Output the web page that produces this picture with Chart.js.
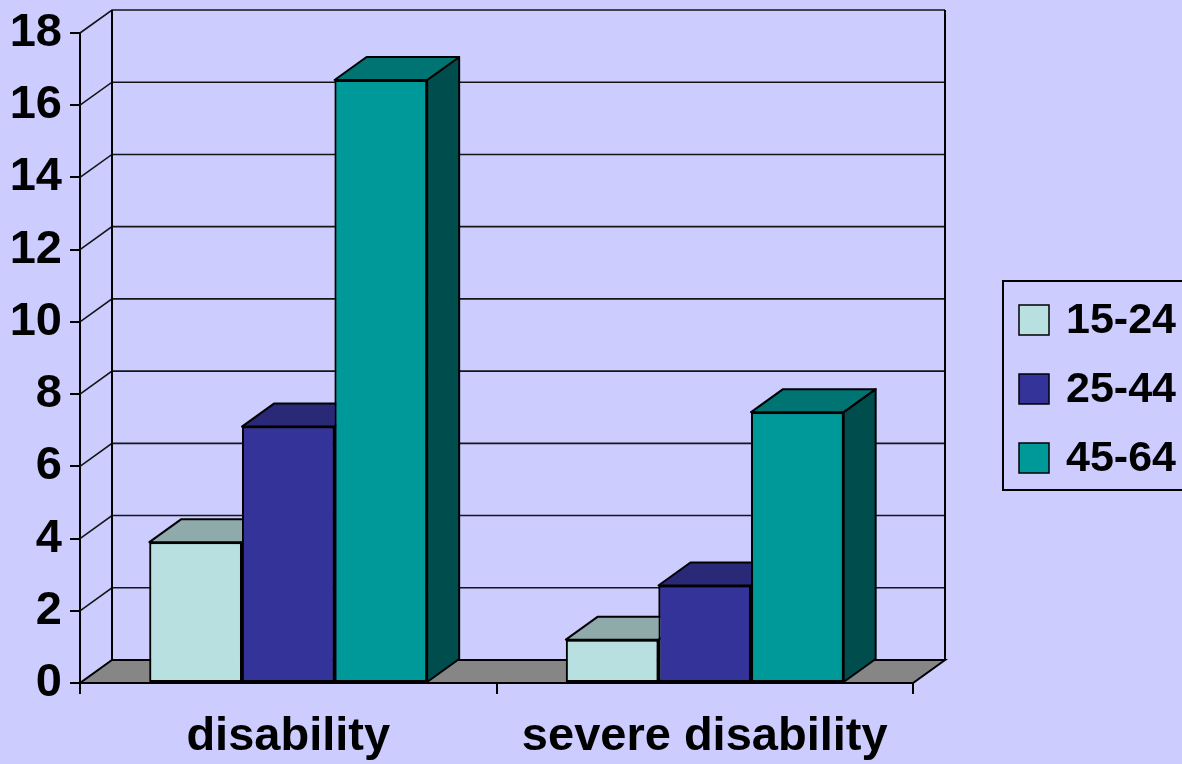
<!DOCTYPE html>
<html>
<head>
<meta charset="utf-8">
<script src="https://cdn.jsdelivr.net/npm/chart.js@4/dist/chart.umd.min.js"></script>
<style>
  html, body { margin: 0; padding: 0; background: #CCCCFF; }
  #wrap { width: 1182px; height: 764px; }
</style>
</head>
<body>
<div id="wrap"><canvas id="c" width="1182" height="764"></canvas></div>
<script>
// ---- data ----
const categories = ['disability', 'severe disability'];
const seriesLabels = ['15-24', '25-44', '45-64'];
const age15to24 = [3.9, 1.2];
const age25to44 = [7.1, 2.7];
const age45to64 = [16.7, 7.5];
const yMin = 0, yMax = 18, yStep = 2;

// ---- style ----
const frontColors = ['#B9E0E0', '#333399', '#009999'];
const topColors   = ['#8FAAAA', '#292977', '#007373'];
const sideColors  = ['#7A9696', '#1F1F5C', '#004D4D'];
const FLOOR = '#868686';
const DX = 32, DY = -23;
const FONT = 'Liberation Sans, Arial, sans-serif';

const depthPlugin = {
  id: 'depth3d',
  beforeDatasetsDraw(chart) {
    const { ctx, chartArea: a, scales: { y } } = chart;
    const L = a.left, R = a.right;
    const B = y.getPixelForValue(yMin), T = y.getPixelForValue(yMax);
    ctx.save();
    // floor
    ctx.beginPath();
    ctx.moveTo(L, B); ctx.lineTo(R, B); ctx.lineTo(R + DX, B + DY); ctx.lineTo(L + DX, B + DY);
    ctx.closePath();
    ctx.fillStyle = FLOOR; ctx.fill();
    ctx.lineWidth = 2; ctx.strokeStyle = '#000'; ctx.stroke();
    // side wall + back wall gridlines
    ctx.lineWidth = 1.6; ctx.strokeStyle = '#151515';
    y.ticks.forEach(t => {
      if (t.value === yMin) return;
      const py = y.getPixelForValue(t.value);
      ctx.beginPath();
      ctx.moveTo(L, py); ctx.lineTo(L + DX, py + DY); ctx.lineTo(R + DX, py + DY);
      ctx.stroke();
    });
    ctx.lineWidth = 2; ctx.strokeStyle = '#000';
    ctx.beginPath();
    ctx.moveTo(L + DX, T + DY); ctx.lineTo(L + DX, B + DY);
    ctx.moveTo(R + DX, T + DY); ctx.lineTo(R + DX, B + DY);
    ctx.stroke();
    ctx.restore();
  },
  afterDatasetsDraw(chart) {
    const { ctx } = chart;
    // gather bars, paint back-to-front (left to right): side, top, then front face
    const bars = [];
    chart.data.datasets.forEach((ds, i) => {
      chart.getDatasetMeta(i).data.forEach(el => bars.push({ el, i }));
    });
    bars.sort((a, b) => a.el.x - b.el.x);
    ctx.save();
    ctx.lineWidth = 2; ctx.strokeStyle = '#000'; ctx.lineJoin = 'round';
    bars.forEach(({ el, i }) => {
      const p = el.getProps(['x', 'y', 'base', 'width'], true);
      const x1 = p.x - p.width / 2, x2 = p.x + p.width / 2;
      const top = p.y, base = p.base;
      // side face
      ctx.beginPath();
      ctx.moveTo(x2, top); ctx.lineTo(x2 + DX, top + DY); ctx.lineTo(x2 + DX, base + DY); ctx.lineTo(x2, base);
      ctx.closePath();
      ctx.fillStyle = sideColors[i]; ctx.fill(); ctx.stroke();
      // top face
      ctx.beginPath();
      ctx.moveTo(x1, top); ctx.lineTo(x2, top); ctx.lineTo(x2 + DX, top + DY); ctx.lineTo(x1 + DX, top + DY);
      ctx.closePath();
      ctx.fillStyle = topColors[i]; ctx.fill(); ctx.stroke();
      // front face (library element)
      el.draw(ctx, chart.chartArea);
    });
    ctx.restore();
  },
  afterDraw(chart) {
    // legend box
    const { ctx } = chart;
    ctx.save();
    ctx.lineWidth = 2; ctx.strokeStyle = '#000';
    ctx.strokeRect(1003, 281, 200, 209);
    const ys = [320, 389, 458];
    chart.data.datasets.forEach((ds, k) => {
      ctx.fillStyle = ds.backgroundColor;
      ctx.fillRect(1019, ys[k] - 15, 30, 30);
      ctx.lineWidth = 1.5;
      ctx.strokeRect(1019, ys[k] - 15, 30, 30);
      ctx.fillStyle = '#000';
      ctx.font = 'bold 43px ' + FONT;
      ctx.textBaseline = 'middle';
      ctx.textAlign = 'left';
      ctx.fillText(ds.label, 1066, ys[k] + 1);
    });
    ctx.restore();
  }
};

const seriesValues = [age15to24, age25to44, age45to64];
new Chart(document.getElementById('c'), {
  type: 'bar',
  data: {
    labels: categories,
    datasets: seriesLabels.map((lab, k) => ({
      label: lab,
      data: seriesValues[k],
      backgroundColor: frontColors[k],
      borderColor: '#000',
      borderWidth: 2,
      borderSkipped: false,
      categoryPercentage: 0.667,
      barPercentage: 1.0
    }))
  },
  options: {
    responsive: false,
    devicePixelRatio: 1,
    animation: false,
    layout: { padding: { left: 0, right: 269, top: 33, bottom: 0 } },
    plugins: { legend: { display: false }, tooltip: { enabled: false } },
    scales: {
      x: {
        grid: { offset: true, drawOnChartArea: false, tickLength: 11, color: '#000', lineWidth: 2 },
        border: { display: true, color: '#000', width: 2 },
        ticks: { color: '#000', font: { family: FONT, size: 47, weight: 'bold' }, padding: 15 },
        afterFit(s) { s.height = 81; }
      },
      y: {
        min: yMin, max: yMax,
        grid: { drawOnChartArea: false, tickLength: 10, color: '#000', lineWidth: 2 },
        border: { display: true, color: '#000', width: 2 },
        ticks: { stepSize: yStep, color: '#000', font: { family: FONT, size: 47, weight: 'bold', lineHeight: 0.9 }, padding: 8 },
        afterFit(s) { s.width = 80; }
      }
    }
  },
  plugins: [depthPlugin]
});
</script>
</body>
</html>
